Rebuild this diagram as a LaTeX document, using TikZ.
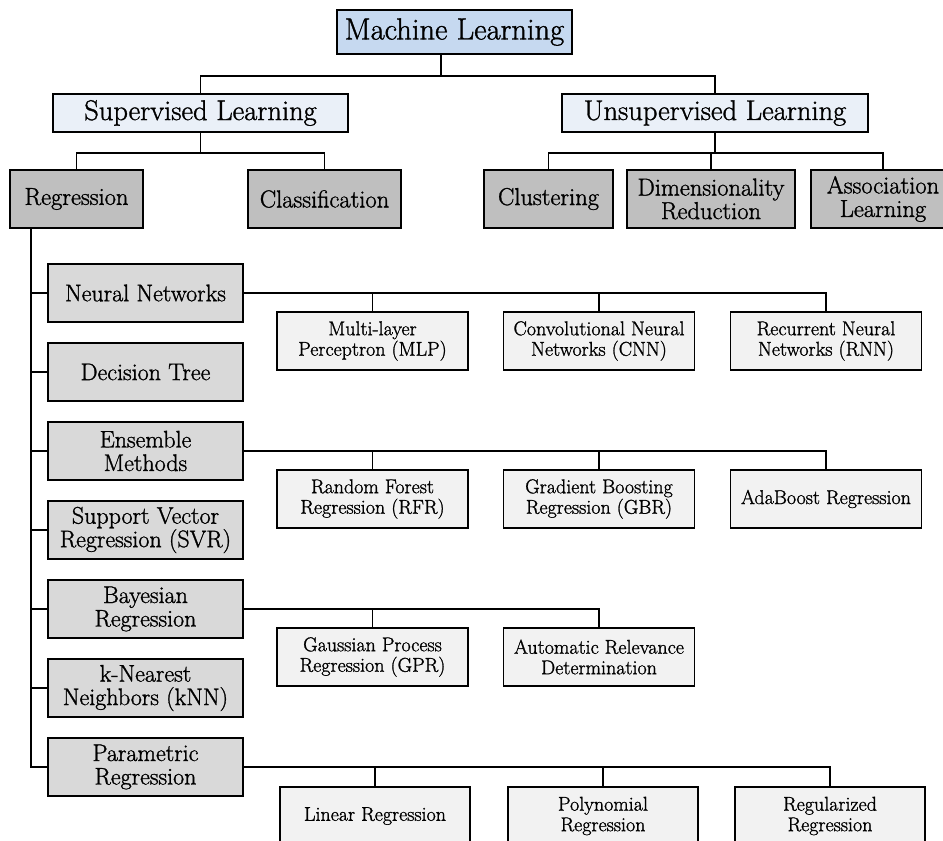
\documentclass[tikz,border=0pt]{standalone}
\usepackage{fontspec}
\newfontfamily\boxfont{lmroman17-regular.otf}[FakeBold=1.2]
\usetikzlibrary{calc}
\definecolor{rootblue}{HTML}{C6D9F0}
\definecolor{paleblue}{HTML}{EAF0F8}
\definecolor{darkgray}{HTML}{BFBFBF}
\definecolor{midgray}{HTML}{D9D9D9}
\definecolor{leafgray}{HTML}{F2F2F2}
\tikzset{
  box/.style={draw=black, line width=1.4pt, inner sep=0pt, align=center, anchor=center, text=black},
  rootbox/.style={box, fill=rootblue, minimum width=235pt, minimum height=44pt,
    font=\boxfont\fontsize{30.5}{33}\selectfont},
  typebox/.style={box, fill=paleblue, minimum height=38pt,
    font=\boxfont\fontsize{28.5}{31}\selectfont},
  taskbox/.style={box, fill=darkgray, minimum height=58pt,
    font=\boxfont\fontsize{24.5}{23.5}\selectfont},
  methodbox/.style={box, fill=midgray, minimum width=195pt, minimum height=58pt,
    font=\boxfont\fontsize{24}{23.5}\selectfont},
  leafbox/.style={box, fill=leafgray, minimum width=191pt, minimum height=58pt,
    font=\boxfont\fontsize{20}{20.5}\selectfont},
  link/.style={draw=black, line width=1.3pt},
}
\begin{document}
\begin{tikzpicture}[x=1pt, y=-1pt]
\useasboundingbox (0,0) rectangle (943,841);

% top levels
\node[rootbox] (ml) at (454.5,32) {Machine Learning};
\node[typebox, minimum width=295pt] (sup) at (200.5,113) {Supervised Learning};
\node[typebox, minimum width=306pt] (uns) at (715,113) {Unsupervised Learning};

% learning tasks
\node[taskbox, minimum width=133pt] (reg) at (76.5,199) {Regression};
\node[taskbox, minimum width=153pt] (cls) at (324.5,199) {Classification};
\node[taskbox, minimum width=129pt] (clu) at (548.5,199) {Clustering};
\node[taskbox, minimum width=168pt] (dim) at (711,199) {Dimensionality\\Reduction};
\node[taskbox, minimum width=144pt] (asc) at (883,199) {Association\\Learning};

% regression methods
\node[methodbox] (nn)  at (145.5,293) {Neural Networks};
\node[methodbox] (dt)  at (145.5,372) {Decision Tree};
\node[methodbox] (ens) at (145.5,451) {Ensemble\\Methods};
\node[methodbox] (svr) at (145.5,530) {Support Vector\\Regression (SVR)};
\node[methodbox] (bay) at (145.5,609) {Bayesian\\Regression};
\node[methodbox] (knn) at (145.5,688) {k-Nearest\\Neighbors (kNN)};
\node[methodbox] (par) at (145.5,767) {Parametric\\Regression};

% concrete models
\node[leafbox] (mlp) at (372.5,341) {Multi-layer\\Perceptron (MLP)};
\node[leafbox] (cnn) at (599,341) {Convolutional Neural\\Networks (CNN)};
\node[leafbox] (rnn) at (826,341) {Recurrent Neural\\Networks (RNN)};

\node[leafbox] (rfr) at (372.5,499) {Random Forest\\Regression (RFR)};
\node[leafbox] (gbr) at (599,499) {Gradient Boosting\\Regression (GBR)};
\node[leafbox] (ada) at (826,499) {AdaBoost Regression};

\node[leafbox] (gpr) at (372.5,657) {Gaussian Process\\Regression (GPR)};
\node[leafbox] (ard) at (599,657) {Automatic Relevance\\Determination};

\node[leafbox, minimum width=190pt] (lin) at (375,816) {Linear Regression};
\node[leafbox, minimum width=190pt] (pol) at (603,816) {Polynomial\\Regression};
\node[leafbox, minimum width=190pt] (rgl) at (830,816) {Regularized\\Regression};

% bus lines and trunk
\coordinate (mlbus) at (441,76);
\coordinate (supbus) at (0,153);
\coordinate (trunk) at (31,228);

% root to learning types
\draw[link] (ml.south -| mlbus) -- (mlbus);
\draw[link] (sup.north) -- (sup.north |- mlbus) -- (uns.north |- mlbus) -- (uns.north);

% supervised
\draw[link] (sup.south) -- (sup.south |- supbus);
\draw[link] (reg.north) -- (reg.north |- supbus) -- (cls.north |- supbus) -- (cls.north);

% unsupervised
\draw[link] (uns.south) -- (uns.south |- supbus);
\draw[link] (clu.north) -- (clu.north |- supbus) -- (asc.north |- supbus) -- (asc.north);
\draw[link] (dim.north) -- (dim.north |- supbus);

% regression trunk
\draw[link] (trunk) |- (par.west);
\foreach \m in {nn,dt,ens,svr,bay,knn}
  \draw[link] (trunk |- \m.west) -- (\m.west);

% method to model branches
\draw[link] (nn.east) -| (rnn.north);
\draw[link] (mlp.north) -- (mlp.north |- nn.east);
\draw[link] (cnn.north) -- (cnn.north |- nn.east);

\draw[link] (ens.east) -| (ada.north);
\draw[link] (rfr.north) -- (rfr.north |- ens.east);
\draw[link] (gbr.north) -- (gbr.north |- ens.east);

\draw[link] (bay.east) -| (ard.north);
\draw[link] (gpr.north) -- (gpr.north |- bay.east);

\draw[link] (par.east) -| (rgl.north);
\draw[link] (lin.north) -- (lin.north |- par.east);
\draw[link] (pol.north) -- (pol.north |- par.east);
\end{tikzpicture}
\end{document}
